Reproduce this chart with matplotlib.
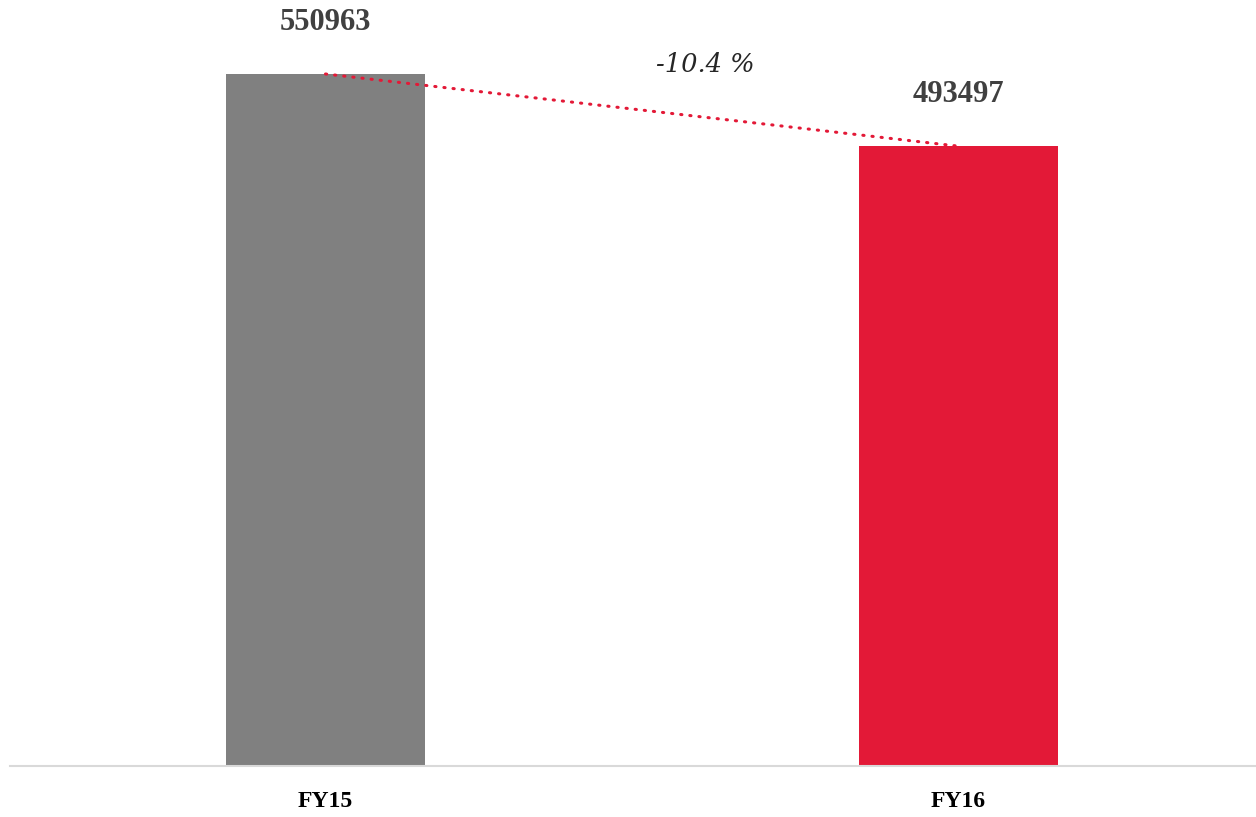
import matplotlib.pyplot as plt

years = ['FY15', 'FY16']
values = [550963, 493497]
colors = ['#808080', '#E31937']
change_label = '-10.4 %'

fig = plt.figure(figsize=(12.56, 8.17), dpi=100)
ax = fig.add_axes([10 / 1256, 51 / 817, 1246 / 1256, 766 / 817])

ax.bar(range(len(years)), values, width=0.314, color=colors)
ax.set_xlim(-0.4984, 1.4700)
ax.set_ylim(0, 609873)

# dotted trend line between the bar tops
ax.plot([0, 1], values, color='#E31937', lw=2.2,
        linestyle=(0, (0.4, 2.6)), dash_capstyle='round')

for i, v in enumerate(values):
    ax.annotate(str(v), (i, v), xytext=(0, 37), textcoords='offset points',
                ha='center', va='center', fontsize=22, fontweight='bold',
                color='#404040', family='Liberation Serif')

ax.text(0.6, 558500, change_label, ha='center', va='center', fontsize=18.5,
        style='italic', color='#262626', family='DejaVu Serif')

for s in ['top', 'right', 'left']:
    ax.spines[s].set_visible(False)
ax.spines['bottom'].set_color('#d9d9d9')
ax.spines['bottom'].set_linewidth(1.5)
ax.set_yticks([])
ax.set_xticks(range(len(years)))
ax.set_xticklabels(years, fontsize=17, fontweight='bold', family='Liberation Serif', color='#000000')
ax.tick_params(axis='x', length=0, pad=18)

fig.savefig('out.png', dpi=100)
